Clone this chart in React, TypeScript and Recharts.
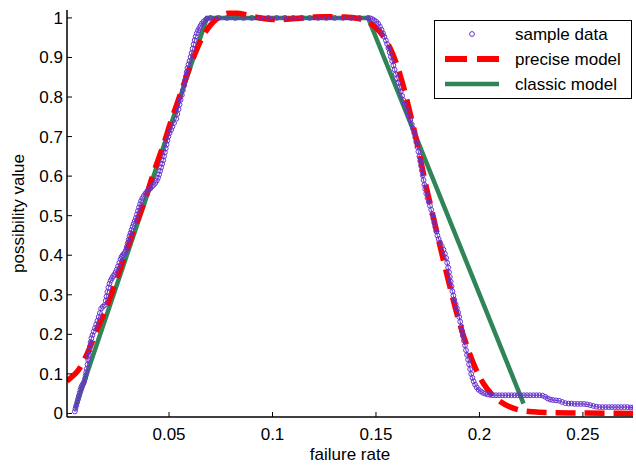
import React from 'react';
import { ComposedChart, Line, Scatter, XAxis, YAxis, Legend } from 'recharts';

// ---- series names ----
const seriesNames = ['sample data', 'precise model', 'classic model'];

// ---- axis ticks ----
const xTicks = [0.05, 0.1, 0.15, 0.2, 0.25];
const yTicks = [0, 0.1, 0.2, 0.3, 0.4, 0.5, 0.6, 0.7, 0.8, 0.9, 1];
const xDomain = [0.0007, 0.2742];
const yDomain = [-0.009, 1.02];

// ---- sample data ----
const sampleRise: [number, number][] = [
  [0.0045, 0.005], [0.0048, 0.012], [0.0052, 0.02], [0.0056, 0.028], [0.006, 0.036], [0.0064, 0.044],
  [0.0068, 0.052], [0.0072, 0.06], [0.0076, 0.066], [0.008, 0.071], [0.0085, 0.075], [0.009, 0.08],
  [0.0094, 0.088], [0.0097, 0.096], [0.01, 0.104], [0.0103, 0.113], [0.0106, 0.124], [0.0109, 0.136],
  [0.0112, 0.148], [0.0115, 0.159], [0.0118, 0.17], [0.0121, 0.18], [0.0125, 0.19], [0.013, 0.198],
  [0.0136, 0.207], [0.0142, 0.216], [0.0148, 0.225], [0.0154, 0.234], [0.016, 0.244], [0.0166, 0.254],
  [0.0172, 0.265], [0.018, 0.27], [0.0189, 0.274], [0.0194, 0.285], [0.0198, 0.296], [0.0202, 0.307],
  [0.0207, 0.318], [0.0212, 0.328], [0.0218, 0.336], [0.0224, 0.342], [0.023, 0.347], [0.0236, 0.351],
  [0.0242, 0.357], [0.0248, 0.364], [0.0254, 0.372], [0.026, 0.381], [0.0266, 0.39], [0.0271, 0.396],
  [0.0276, 0.4], [0.0281, 0.403], [0.0286, 0.406], [0.0291, 0.412], [0.0296, 0.421], [0.03, 0.43],
  [0.0305, 0.439], [0.0309, 0.448], [0.0314, 0.456], [0.0319, 0.464], [0.0324, 0.472], [0.0329, 0.479],
  [0.0334, 0.486], [0.034, 0.494], [0.0345, 0.503], [0.035, 0.512], [0.0355, 0.521], [0.036, 0.529],
  [0.0365, 0.537], [0.0371, 0.544], [0.0378, 0.55], [0.0386, 0.556], [0.0394, 0.561], [0.0402, 0.565],
  [0.041, 0.569], [0.0418, 0.574], [0.0426, 0.578], [0.0434, 0.583], [0.0441, 0.589], [0.0447, 0.596],
  [0.0452, 0.604], [0.0457, 0.613], [0.0462, 0.622], [0.0467, 0.631], [0.0472, 0.64], [0.0476, 0.65],
  [0.048, 0.66], [0.0484, 0.67], [0.0488, 0.68], [0.0492, 0.69], [0.0497, 0.7], [0.0503, 0.709],
  [0.051, 0.717], [0.0516, 0.725], [0.0524, 0.734], [0.0535, 0.745], [0.054, 0.757], [0.0546, 0.769],
  [0.0551, 0.781], [0.0556, 0.793], [0.0562, 0.805], [0.0567, 0.817], [0.0573, 0.829], [0.0577, 0.841],
  [0.0581, 0.852], [0.0585, 0.863], [0.0589, 0.873], [0.0594, 0.882], [0.0599, 0.891], [0.0604, 0.901],
  [0.0609, 0.911], [0.0614, 0.922], [0.0619, 0.933], [0.0624, 0.944], [0.0629, 0.953], [0.0634, 0.961],
  [0.064, 0.968], [0.0646, 0.974], [0.0652, 0.98], [0.0659, 0.986], [0.0667, 0.991], [0.0676, 0.995],
  [0.0685, 0.998],
];
const sampleFlat: [number, number][] = [
  [0.07, 1], [0.074, 1], [0.078, 1], [0.082, 1], [0.086, 1], [0.09, 1], [0.094, 1], [0.098, 1],
  [0.102, 1], [0.106, 1], [0.11, 1], [0.114, 1], [0.118, 1], [0.122, 1], [0.126, 1], [0.13, 1],
  [0.134, 1], [0.138, 1], [0.142, 1], [0.1462, 1],
];
const sampleFall: [number, number][] = [
  [0.1472, 0.999], [0.1482, 0.997], [0.1492, 0.994], [0.1502, 0.99], [0.1511, 0.985], [0.1519, 0.978],
  [0.1527, 0.97], [0.1534, 0.961], [0.1541, 0.952], [0.1548, 0.943], [0.1554, 0.934], [0.156, 0.924],
  [0.1566, 0.913], [0.1572, 0.902], [0.1578, 0.891], [0.1584, 0.88], [0.159, 0.869], [0.1596, 0.858],
  [0.1602, 0.847], [0.1608, 0.836], [0.1614, 0.825], [0.162, 0.814], [0.1626, 0.803], [0.1632, 0.792],
  [0.1638, 0.782], [0.1645, 0.772], [0.1652, 0.762], [0.1659, 0.752], [0.1666, 0.742], [0.1673, 0.731],
  [0.1679, 0.72], [0.1685, 0.709], [0.169, 0.698], [0.1695, 0.686], [0.17, 0.674], [0.1705, 0.662],
  [0.171, 0.65], [0.1714, 0.638], [0.1718, 0.626], [0.1722, 0.614], [0.1726, 0.602], [0.173, 0.59],
  [0.1734, 0.578], [0.1738, 0.567], [0.1743, 0.556], [0.1749, 0.545], [0.1755, 0.535], [0.1761, 0.525],
  [0.1767, 0.515], [0.1772, 0.504], [0.1777, 0.493], [0.1782, 0.482], [0.1787, 0.471], [0.1792, 0.46],
  [0.1797, 0.45], [0.1803, 0.441], [0.181, 0.432], [0.1818, 0.423], [0.1826, 0.414], [0.1833, 0.404],
  [0.1839, 0.393], [0.1844, 0.381], [0.1849, 0.369], [0.1853, 0.357], [0.1857, 0.345], [0.1861, 0.333],
  [0.1865, 0.321], [0.1869, 0.309], [0.1874, 0.298], [0.1879, 0.287], [0.1885, 0.276], [0.1891, 0.266],
  [0.1897, 0.255], [0.1902, 0.244], [0.1907, 0.232], [0.1912, 0.22], [0.1916, 0.208], [0.192, 0.196],
  [0.1925, 0.184], [0.193, 0.172], [0.1935, 0.16], [0.194, 0.148], [0.1945, 0.136], [0.195, 0.124],
  [0.1955, 0.112], [0.196, 0.1], [0.1966, 0.09], [0.1972, 0.081], [0.1979, 0.073], [0.1987, 0.066],
  [0.1996, 0.06], [0.2006, 0.056], [0.2017, 0.052], [0.2028, 0.05], [0.204, 0.048], [0.2052, 0.047],
];
const sampleTail: [number, number][] = [
  [0.2065, 0.046], [0.208, 0.046], [0.2095, 0.046], [0.211, 0.046], [0.2125, 0.046], [0.214, 0.046],
  [0.2155, 0.046], [0.217, 0.046], [0.2185, 0.046], [0.22, 0.046], [0.2215, 0.046], [0.223, 0.046],
  [0.2245, 0.046], [0.226, 0.046], [0.2275, 0.046], [0.229, 0.046], [0.2305, 0.045], [0.2318, 0.042],
  [0.233, 0.038], [0.2342, 0.035], [0.2355, 0.034], [0.237, 0.033], [0.2385, 0.032], [0.24, 0.029],
  [0.2415, 0.026], [0.243, 0.025], [0.2445, 0.025], [0.246, 0.024], [0.2475, 0.024], [0.249, 0.024],
  [0.2505, 0.024], [0.252, 0.023], [0.2535, 0.021], [0.255, 0.019], [0.2565, 0.017], [0.258, 0.016],
  [0.2595, 0.016], [0.261, 0.016], [0.2625, 0.016], [0.264, 0.016], [0.2655, 0.016], [0.267, 0.016],
  [0.2685, 0.016], [0.27, 0.016], [0.2715, 0.016], [0.273, 0.015], [0.2742, 0.015],
];

// ---- precise model (red dashed) ----
const preciseModel: [number, number][] = [
  [0.0007, 0.082], [0.003, 0.092], [0.006, 0.108], [0.009, 0.135], [0.012, 0.17], [0.015, 0.21],
  [0.018, 0.245], [0.021, 0.285], [0.024, 0.33], [0.027, 0.375], [0.03, 0.42], [0.033, 0.465],
  [0.036, 0.505], [0.039, 0.55], [0.042, 0.6], [0.045, 0.645], [0.048, 0.69], [0.051, 0.74],
  [0.054, 0.785], [0.057, 0.83], [0.06, 0.875], [0.063, 0.915], [0.066, 0.95], [0.069, 0.975],
  [0.072, 0.993], [0.075, 1.005], [0.079, 1.012], [0.083, 1.012], [0.087, 1.008], [0.091, 1.003],
  [0.095, 0.999], [0.1, 0.996], [0.105, 0.996], [0.11, 0.998], [0.115, 1.0], [0.12, 1.002],
  [0.125, 1.003], [0.13, 1.003], [0.135, 1.002], [0.14, 1.0], [0.146, 0.99], [0.15, 0.975],
  [0.154, 0.95], [0.158, 0.91], [0.162, 0.85], [0.166, 0.77], [0.17, 0.68], [0.174, 0.58],
  [0.178, 0.49], [0.182, 0.4], [0.186, 0.315], [0.19, 0.235], [0.194, 0.17], [0.198, 0.115],
  [0.202, 0.075], [0.206, 0.048], [0.21, 0.03], [0.215, 0.016], [0.22, 0.008], [0.226, 0.004],
  [0.235, 0.002], [0.25, 0.001], [0.2742, 0.0],
];

// ---- classic model (green trapezoid) ----
const classicModel: [number, number][] = [
  [0.0046, 0.012], [0.0683, 1], [0.1462, 1], [0.2213, 0.025],
];

const toRows = (pts: [number, number][]) => pts.map(([x, y]) => ({ x, y }));
const sampleRows = toRows([...sampleRise, ...sampleFlat, ...sampleFall, ...sampleTail]);
const preciseRows = toRows(preciseModel);
const classicRows = toRows(classicModel);

const PURPLE = '#6633cc';
const RED = '#ff0000';
const GREEN = '#2f8558';
const FONT = '"Liberation Sans", Arial, Helvetica, sans-serif';
const FS = 17;

const fmt = (v: number) => String(v);
const axisLineStyle = { stroke: '#000', strokeWidth: 1.5 };

const Circle = (p: any) => (
  <circle cx={p.cx} cy={p.cy} r={2.4} fill="none" stroke={PURPLE} strokeWidth={1} />
);

const LegendBox = () => (
  <svg width={198} height={79} style={{ display: 'block' }}>
    <rect x={0.5} y={0.5} width={197} height={78} fill="#fff" stroke="#000" strokeWidth={1} />
    <circle cx={38} cy={14} r={2.4} fill="none" stroke={PURPLE} strokeWidth={1} />
    <line x1={11} y1={39} x2={65} y2={39} stroke={RED} strokeWidth={6} strokeDasharray="22 10" />
    <line x1={11} y1={64} x2={65} y2={64} stroke={GREEN} strokeWidth={4.5} />
    {seriesNames.map((n, i) => (
      <text key={n} x={81} y={20 + i * 25} fontFamily={FONT} fontSize={FS} fill="#000">{n}</text>
    ))}
  </svg>
);

export default function App() {
  return (
    <div style={{ position: 'absolute', left: 0, top: 0, width: 636, height: 466, background: '#fff' }}>
      <ComposedChart width={636} height={466} margin={{ top: 10, right: 3, bottom: 9, left: 0 }}>
        <XAxis
          xAxisId="b" type="number" dataKey="x" domain={xDomain} ticks={xTicks} allowDataOverflow
          orientation="bottom" height={40} stroke="#000" axisLine={axisLineStyle} tickSize={-5} tickMargin={16}
          tickFormatter={fmt} tick={{ fill: '#000', fontSize: FS, fontFamily: FONT }}
          label={{ value: 'failure rate', position: 'insideBottom', offset: -3, fill: '#000', fontSize: FS, fontFamily: FONT }}
        />
        <XAxis
          xAxisId="t" type="number" dataKey="x" domain={xDomain} ticks={xTicks} allowDataOverflow
          orientation="top" height={0} stroke="#000" axisLine={axisLineStyle} tickSize={-5} tick={false}
        />
        <YAxis
          yAxisId="l" type="number" domain={yDomain} ticks={yTicks} allowDataOverflow
          orientation="left" width={67} stroke="#000" axisLine={axisLineStyle} tickSize={-5} tickMargin={9}
          tickFormatter={fmt} tick={{ fill: '#000', fontSize: FS, fontFamily: FONT }}
          label={{ value: 'possibility value', angle: -90, position: 'insideLeft', offset: 18, fill: '#000', fontSize: FS, fontFamily: FONT, style: { textAnchor: 'middle' } }}
        />
        <YAxis
          yAxisId="r" type="number" domain={yDomain} ticks={yTicks} allowDataOverflow
          orientation="right" width={0} stroke="#000" axisLine={axisLineStyle} tickSize={-5} tick={false}
        />
        <Scatter
          xAxisId="b" yAxisId="l" name={seriesNames[0]} data={sampleRows} dataKey="y"
          shape={Circle} line={{ stroke: PURPLE, strokeWidth: 1 }} isAnimationActive={false}
        />
        <Line
          xAxisId="b" yAxisId="l" name={seriesNames[2]} data={classicRows} dataKey="y" type="linear"
          stroke={GREEN} strokeWidth={4.5} dot={false} activeDot={false} isAnimationActive={false}
        />
        <Line
          xAxisId="b" yAxisId="l" name={seriesNames[1]} data={preciseRows} dataKey="y" type="monotone"
          stroke={RED} strokeWidth={5.5} strokeDasharray="20 9" dot={false} activeDot={false} isAnimationActive={false}
        />
        <Legend
          layout="vertical" align="center" verticalAlign="middle" content={() => <LegendBox />}
          wrapperStyle={{ position: 'absolute', left: 434, top: 20, width: 198, height: 79 }}
        />
      </ComposedChart>
    </div>
  );
}
